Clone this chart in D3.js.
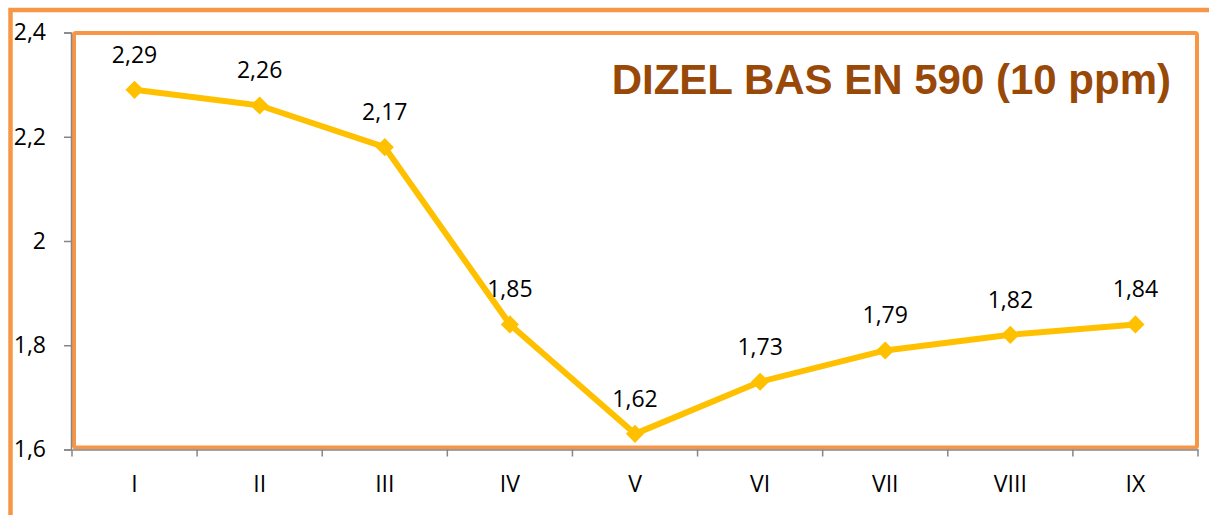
<!DOCTYPE html>
<meta charset="utf-8">
<style>
 body { margin: 0; background: #fff; }
 svg { display: block; }
 .tick text, .lbl { font-family: "Open Sans", sans-serif; font-size: 23px; fill: #000; }
</style>
<body>
<script src="https://cdn.jsdelivr.net/npm/d3@7"></script>
<script>

// months, plotted values and the data labels as printed on the chart
var months = ["I", "II", "III", "IV", "V", "VI", "VII", "VIII", "IX"];
var prices = [2.29, 2.26, 2.18, 1.84, 1.63, 1.73, 1.79, 1.82, 1.84];
var priceLabels = ["2,29", "2,26", "2,17", "1,85", "1,62", "1,73", "1,79", "1,82", "1,84"];
var yTicks = [1.6, 1.8, 2, 2.2, 2.4];
var title = "DIZEL BAS EN 590 (10 ppm)";

var width = 1209, height = 515;
var plot = {left: 72, right: 1198, top: 32.5, bottom: 449.5};

var orange = "#f79646", gold = "#ffc000", axisGrey = "#868686";

var svg = d3.select("body").append("svg")
    .attr("width", width)
    .attr("height", height);

// scales
var x = d3.scaleBand().domain(months).range([plot.left, plot.right]).padding(0);
var y = d3.scaleLinear().domain([1.6, 2.4]).range([plot.bottom, plot.top]);

// outer chart frame (only left and top edges are in view)
svg.append("path")
    .attr("d", "M10.5," + height + "V10H" + width)
    .attr("fill", "none")
    .attr("stroke", orange)
    .attr("stroke-width", 4.5);

// plot area frame
svg.append("rect")
    .attr("x", plot.left + 2)
    .attr("y", plot.top + 0.5)
    .attr("width", plot.right - plot.left - 3)
    .attr("height", plot.bottom - plot.top - 2.5)
    .attr("rx", 2)
    .attr("fill", "none")
    .attr("stroke", orange)
    .attr("stroke-width", 4);

// y axis
var yAxis = svg.append("g")
    .attr("transform", "translate(" + (plot.left - 1) + ",0)")
    .call(d3.axisLeft(y)
        .tickValues(yTicks)
        .tickSize(7)
        .tickPadding(18)
        .tickFormat(function(d) { return String(d).replace(".", ","); }));
yAxis.select(".domain").attr("stroke", axisGrey).attr("stroke-width", 1.5);
yAxis.selectAll(".tick line").attr("stroke", axisGrey).attr("stroke-width", 1.5);
yAxis.selectAll(".tick text").attr("font-family", null).attr("font-size", null);

// x axis: labels at band centres, ticks on band edges
var xAxis = svg.append("g")
    .attr("transform", "translate(0," + plot.bottom + ")")
    .call(d3.axisBottom(x).tickSize(0).tickPadding(26));
xAxis.select(".domain").attr("stroke", axisGrey).attr("stroke-width", 1.5);
xAxis.selectAll(".tick text").attr("font-family", null).attr("font-size", null);

var edges = months.map(function(m) { return x(m); }).concat([x.range()[1]]);
xAxis.selectAll(".edge")
    .data(edges)
  .enter().append("line")
    .attr("class", "edge")
    .attr("x1", function(d) { return d; })
    .attr("x2", function(d) { return d; })
    .attr("y1", 0)
    .attr("y2", 7)
    .attr("stroke", axisGrey)
    .attr("stroke-width", 1.5);

var data = months.map(function(m, i) {
  return {month: m, value: prices[i], label: priceLabels[i]};
});

var cx = function(d) { return x(d.month) + x.bandwidth() / 2; };

// the line
var valueline = d3.line()
    .x(cx)
    .y(function(d) { return y(d.value); });

svg.append("path")
    .datum(data)
    .attr("d", valueline)
    .attr("fill", "none")
    .attr("stroke", gold)
    .attr("stroke-width", 6)
    .attr("stroke-linejoin", "round");

// diamond markers
svg.selectAll(".marker")
    .data(data)
  .enter().append("path")
    .attr("class", "marker")
    .attr("d", d3.symbol().type(d3.symbolSquare).size(165))
    .attr("transform", function(d) {
      return "translate(" + cx(d) + "," + y(d.value) + ") rotate(45)";
    })
    .attr("fill", gold);

// data labels
svg.selectAll(".lbl")
    .data(data)
  .enter().append("text")
    .attr("class", "lbl")
    .attr("x", cx)
    .attr("y", function(d) { return y(d.value) - 27; })
    .attr("text-anchor", "middle")
    .text(function(d) { return d.label; });

// title
svg.append("text")
    .attr("x", 1171)
    .attr("y", 94)
    .attr("text-anchor", "end")
    .attr("font-family", "'Liberation Sans', Arial, sans-serif")
    .attr("font-weight", "bold")
    .attr("font-size", 42)
    .attr("fill", "#984807")
    .text(title);

</script>
</body>
